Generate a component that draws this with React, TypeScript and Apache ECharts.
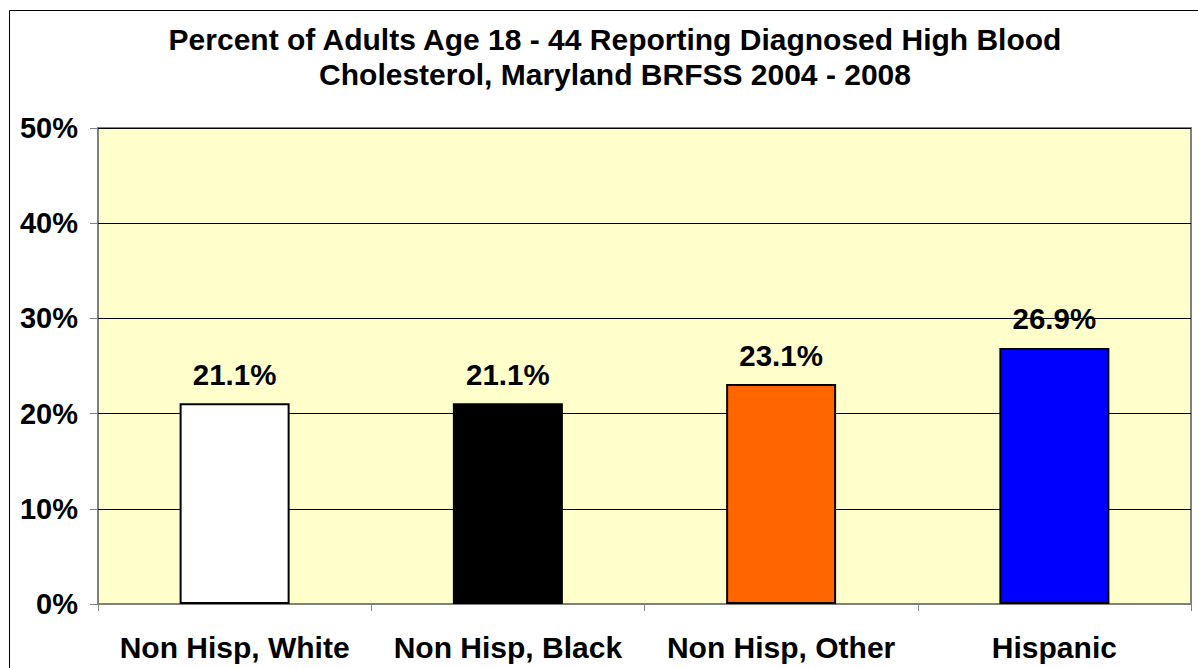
import React, { useEffect, useRef } from "react";
import * as echarts from "echarts";

const categories = ["Non Hisp, White", "Non Hisp, Black", "Non Hisp, Other", "Hispanic"];
const values = [21.1, 21.1, 23.1, 26.9];
const barColors = ["#FFFFFF", "#000000", "#FF6600", "#0000FF"];
const titleText = "Percent of Adults Age 18 - 44 Reporting Diagnosed High Blood\nCholesterol, Maryland BRFSS 2004 - 2008";

export default function App() {
  const ref = useRef<HTMLDivElement>(null);
  useEffect(() => {
    document.body.style.margin = "0";
    const chart = echarts.init(ref.current!, null, { renderer: "svg" });
    chart.setOption({
      animation: false,
      backgroundColor: "#FFFFFF",
      textStyle: { fontFamily: "Liberation Sans, Arial, sans-serif" },
      title: {
        text: titleText,
        left: 610,
        textAlign: "center",
        top: 17,
        textStyle: { fontSize: 30, fontWeight: "bold", color: "#000", lineHeight: 35, fontFamily: "Liberation Sans, Arial, sans-serif" },
      },
      graphic: [
        {
          type: "rect",
          shape: { x: 9.5, y: 10.5, width: 1200, height: 700 },
          style: { fill: "none", stroke: "#000", lineWidth: 1 },
          silent: true,
          z: 100,
        },
      ],
      grid: {
        left: 98,
        right: 7,
        top: 128,
        bottom: 64,
        show: true,
        backgroundColor: "#FFFFCC",
        borderColor: "#808080",
        borderWidth: 2,
      },
      xAxis: {
        type: "category",
        data: categories,
        axisLine: { lineStyle: { color: "#808080", width: 2 } },
        axisTick: { show: true, length: 7, lineStyle: { color: "#808080" } },
        axisLabel: {
          interval: 0,
          hideOverlap: false,
          fontSize: 30,
          fontWeight: "bold",
          color: "#000",
          margin: 28,
          fontFamily: "Liberation Sans, Arial, sans-serif",
        },
      },
      yAxis: {
        type: "value",
        min: 0,
        max: 50,
        interval: 10,
        axisLine: { show: false },
        axisTick: { show: true, length: 8, lineStyle: { color: "#808080" } },
        splitLine: { lineStyle: { color: "#000", width: 1 } },
        axisLabel: {
          formatter: "{value}%",
          fontSize: 29,
          fontWeight: "bold",
          color: "#000",
          margin: 20,
          fontFamily: "Liberation Sans, Arial, sans-serif",
        },
      },
      series: [
        {
          type: "bar",
          barWidth: 110,
          data: values.map((v, i) => ({
            value: v,
            itemStyle: { color: barColors[i], borderColor: "#000", borderWidth: 2 },
          })),
          label: {
            show: true,
            position: "top",
            distance: 14,
            formatter: (p: any) => p.value.toFixed(1) + "%",
            fontSize: 29.5,
            fontWeight: "bold",
            color: "#000",
            fontFamily: "Liberation Sans, Arial, sans-serif",
          },
        },
      ],
    });
    return () => chart.dispose();
  }, []);
  return <div ref={ref} style={{ width: 1198, height: 668 }} />;
}
